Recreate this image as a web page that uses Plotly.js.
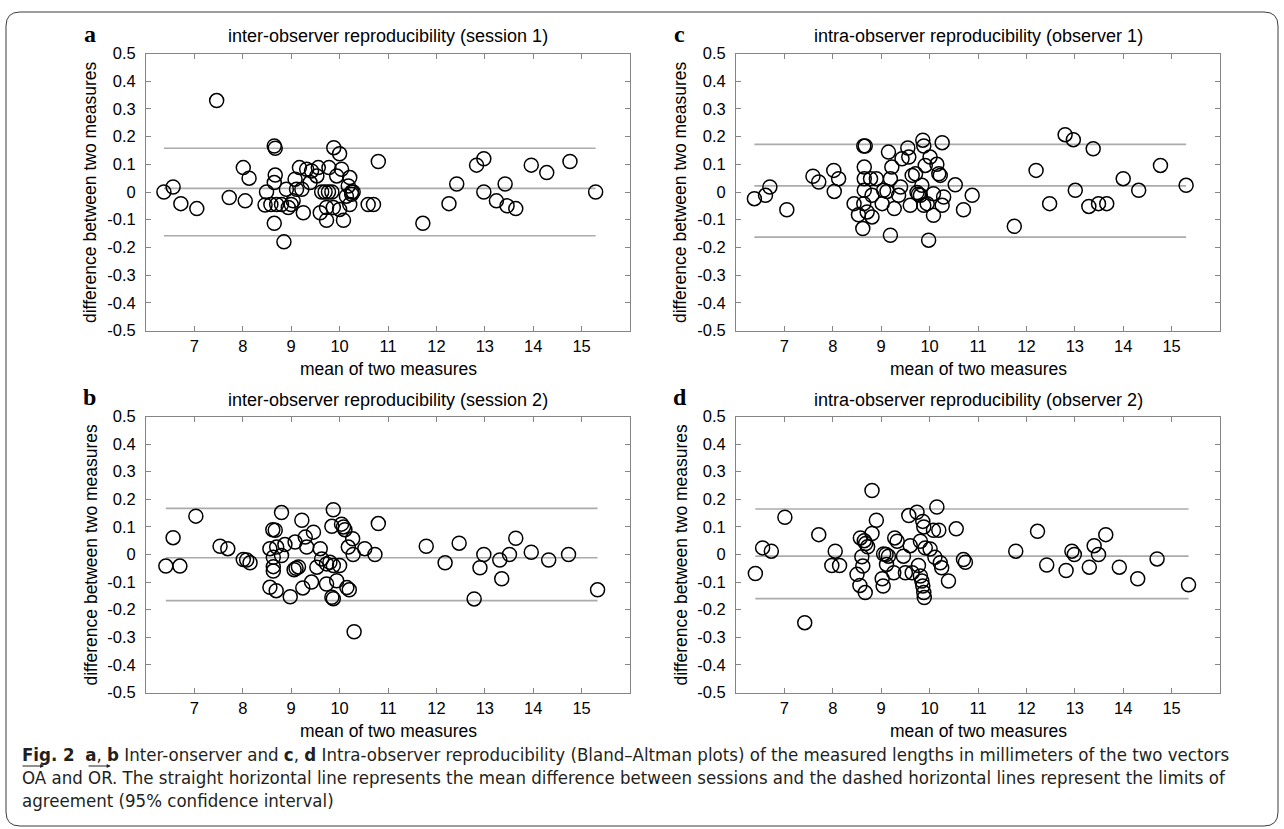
<!DOCTYPE html>
<html><head><meta charset="utf-8">
<script src="https://cdn.plot.ly/plotly-3.0.1.min.js"></script>
<style>html,body{margin:0;padding:0;background:#fff;}#chart{width:1284px;height:829px;}</style>
</head><body><div id="chart"></div>
<script>
// ---------- data ----------
const xTickVals = [7, 8, 9, 10, 11, 12, 13, 14, 15];
const xTickText = ['7', '8', '9', '10', '11', '12', '13', '14', '15'];
const yTickVals = [-0.5, -0.4, -0.3, -0.2, -0.1, 0, 0.1, 0.2, 0.3, 0.4, 0.5];
const yTickText = ['-0.5', '-0.4', '-0.3', '-0.2', '-0.1', '0', '0.1', '0.2', '0.3', '0.4', '0.5'];

const xLabel = 'mean of two measures';
const yLabel = 'difference between two measures';

const titleA = 'inter-observer reproducibility (session 1)';
const titleB = 'inter-observer reproducibility (session 2)';
const titleC = 'intra-observer reproducibility (observer 1)';
const titleD = 'intra-observer reproducibility (observer 2)';

// panel a
const aMean = [6.37,6.56,6.72,7.05,7.46,7.72,8.01,8.05,8.13,8.46,8.49,8.58,8.65,8.67,8.67,8.65,8.65,8.70,8.80,8.85,8.90,8.94,9.00,9.04,9.08,9.11,9.17,9.22,9.25,9.32,9.39,9.42,9.53,9.56,9.60,9.63,9.70,9.73,9.73,9.77,9.78,9.84,9.87,9.88,9.94,10.00,10.00,10.04,10.08,10.14,10.18,10.21,10.21,10.25,10.28,10.25,10.59,10.70,10.80,11.72,12.26,12.42,12.83,12.98,12.98,13.24,13.42,13.46,13.64,13.96,14.28,14.76,15.29];
const aDiff = [0.00,0.018,-0.042,-0.06,0.33,-0.02,0.088,-0.032,0.05,-0.047,0.00,-0.045,0.166,0.158,0.061,0.034,-0.113,-0.045,-0.045,-0.18,0.01,-0.056,-0.045,-0.032,0.046,0.01,0.088,0.01,-0.075,0.082,0.034,0.076,0.058,0.088,-0.075,0.00,0.00,-0.102,-0.056,0.00,0.088,0.00,-0.056,0.16,0.058,0.138,-0.063,0.082,-0.102,-0.015,0.022,0.052,-0.045,0.00,0.00,-0.008,-0.045,-0.045,0.11,-0.113,-0.042,0.029,0.097,0.12,0.00,-0.032,0.029,-0.05,-0.06,0.097,0.07,0.11,0.00];
const aLines = [0.158, 0.013, -0.158];

// panel b
const bMean = [6.41,6.56,6.70,7.03,7.53,7.69,8.01,8.08,8.15,8.56,8.69,8.80,8.62,8.67,8.56,8.70,8.63,8.63,8.63,8.80,8.87,8.98,9.08,9.06,9.10,9.15,9.22,9.29,9.32,9.24,9.42,9.46,9.60,9.63,9.53,9.73,9.80,9.87,9.73,9.84,9.87,9.87,9.84,10.00,9.94,10.04,10.08,10.11,10.27,10.18,10.28,10.15,10.20,10.30,10.52,10.73,10.80,11.79,12.18,12.47,12.78,12.90,12.98,13.31,13.35,13.51,13.64,13.96,14.32,14.73,15.33];
const bDiff = [-0.042,0.061,-0.042,0.139,0.03,0.021,-0.018,-0.02,-0.03,-0.119,-0.131,0.152,0.09,0.088,0.021,0.027,-0.01,-0.044,-0.06,-0.004,0.036,-0.153,0.045,-0.055,-0.05,-0.045,0.124,0.063,0.027,-0.121,-0.1,0.081,0.021,-0.016,-0.046,-0.034,-0.028,-0.04,-0.107,-0.155,-0.16,0.162,0.102,-0.04,-0.095,0.11,0.1,0.09,0.057,0.027,0.00,-0.12,-0.128,-0.28,0.021,0.00,0.112,0.03,-0.03,0.041,-0.161,-0.048,0.00,-0.02,-0.088,0.00,0.059,0.008,-0.02,0.00,-0.128];
const bLines = [0.167, -0.012, -0.167];

// panel c
const cMean = [6.38,6.61,6.70,7.05,7.59,7.71,8.02,8.12,8.03,8.44,8.53,8.62,8.64,8.67,8.65,8.65,8.65,8.64,8.71,8.81,8.78,8.90,8.81,9.02,9.05,9.12,9.19,9.15,9.22,9.19,9.27,9.40,9.36,9.43,9.55,9.57,9.60,9.64,9.71,9.74,9.77,9.81,9.86,9.88,9.91,9.88,9.84,9.98,10.26,10.01,10.15,10.19,10.22,10.08,10.29,9.95,10.26,10.08,10.53,10.88,10.70,11.75,12.20,12.48,12.80,12.97,13.01,13.29,13.38,13.49,13.66,14.00,14.32,14.77,15.30];
const cDiff = [-0.024,-0.012,0.018,-0.064,0.057,0.036,0.078,0.048,0.002,-0.042,-0.082,-0.132,0.166,0.166,0.09,0.048,0.006,-0.042,-0.072,-0.09,0.048,0.048,-0.012,-0.042,0.006,0.002,-0.156,0.144,0.09,0.048,-0.06,0.018,-0.012,0.12,0.159,0.126,-0.048,0.06,0.066,-0.002,-0.008,-0.012,0.187,0.166,0.096,-0.048,0.024,-0.174,0.178,0.126,0.10,0.066,0.06,-0.006,-0.018,-0.042,-0.048,-0.084,0.026,-0.012,-0.064,-0.124,0.078,-0.042,0.207,0.189,0.006,-0.052,0.156,-0.042,-0.042,0.048,0.006,0.096,0.024];
const cLines = [0.172, 0.022, -0.163];

// panel d
const dMean = [6.40,6.55,6.73,7.01,7.42,7.71,8.05,7.98,8.14,8.50,8.56,8.67,8.57,8.65,8.68,8.72,8.60,8.62,8.81,8.81,8.90,9.02,9.04,9.05,9.10,9.15,9.11,9.26,9.28,9.33,9.46,9.57,9.60,9.50,9.64,9.74,9.81,9.77,9.81,9.84,9.86,9.86,9.88,9.88,9.89,9.91,10.15,10.08,10.19,10.55,10.01,10.11,10.22,10.25,10.70,10.74,10.39,11.78,12.23,12.42,12.82,12.94,12.99,13.30,13.40,13.49,13.64,13.92,14.30,14.70,15.35];
const dDiff = [-0.069,0.024,0.012,0.135,-0.247,0.072,0.012,-0.04,-0.04,-0.072,-0.112,-0.138,0.06,0.05,0.04,0.028,-0.008,-0.042,0.232,0.076,0.124,-0.088,-0.114,0.002,0.00,-0.006,-0.036,-0.066,0.06,0.048,-0.006,0.141,0.032,-0.066,-0.066,0.153,0.048,-0.04,-0.078,-0.096,-0.114,0.12,0.10,-0.138,-0.156,0.024,0.172,0.088,0.088,0.093,0.02,-0.01,-0.03,-0.048,-0.018,-0.028,-0.096,0.012,0.084,-0.038,-0.058,0.012,0.00,-0.046,0.032,0.00,0.072,-0.046,-0.088,-0.016,-0.11];
const dLines = [0.165, -0.006, -0.16];

const captionLine1 = '<b>Fig. 2</b>\u00a0\u00a0<b>a</b>, <b>b</b> Inter-onserver and <b>c</b>, <b>d</b> Intra-observer reproducibility (Bland\u2013Altman plots) of the measured lengths in millimeters of the two vectors';
const captionLine2 = 'OA and OR. The straight horizontal line represents the mean difference between sessions and the dashed horizontal lines represent the limits of';
const captionLine3 = 'agreement (95% confidence interval)';

// ---------- layout helpers ----------
const W = 1284, H = 829;
const fx = p => p / W;
const fy = p => 1 - p / H;
const AX = {l: 146, r: 630}, CX = {l: 736, r: 1220};
const TOP = {t: 53.5, b: 330.5}, BOT = {t: 416.5, b: 692.5};

const panels = [
  {id: '', mean: aMean, diff: aDiff, lines: aLines, title: titleA, letter: 'a', X: AX, Y: TOP},
  {id: '2', mean: cMean, diff: cDiff, lines: cLines, title: titleC, letter: 'c', X: CX, Y: TOP},
  {id: '3', mean: bMean, diff: bDiff, lines: bLines, title: titleB, letter: 'b', X: AX, Y: BOT},
  {id: '4', mean: dMean, diff: dDiff, lines: dLines, title: titleD, letter: 'd', X: CX, Y: BOT}
];

const sans = 'Liberation Sans, Arial, sans-serif';
const tickFont = {family: sans, size: 16.5, color: '#000'};
const labelFont = {family: sans, size: 17.5, color: '#000'};
const titleFont = {family: sans, size: 18, color: '#000'};
const axisGray = '#858585';

const traces = [];
const layout = {
  width: W, height: H, margin: {l: 0, r: 0, t: 0, b: 0},
  paper_bgcolor: '#fff', plot_bgcolor: '#fff', showlegend: false,
  annotations: [], shapes: []
};

panels.forEach(p => {
  const xa = 'x' + p.id, ya = 'y' + p.id;
  const xmin = Math.min(...p.mean), xmax = Math.max(...p.mean);
  p.lines.forEach(v => {
    traces.push({x: [xmin, xmax], y: [v, v], xaxis: xa, yaxis: ya, mode: 'lines',
      line: {color: '#ababab', width: 1.6}, hoverinfo: 'skip'});
  });
  traces.push({x: p.mean, y: p.diff, xaxis: xa, yaxis: ya, mode: 'markers',
    marker: {symbol: 'circle-open', size: 14, color: '#000', line: {width: 1.5, color: '#000'}}});

  layout['xaxis' + p.id] = {
    domain: [fx(p.X.l), fx(p.X.r)], anchor: ya, range: [6, 16],
    tickmode: 'array', tickvals: xTickVals, ticktext: xTickText,
    showline: true, linecolor: axisGray, linewidth: 1, mirror: 'ticks',
    ticks: 'inside', ticklen: 5, tickcolor: axisGray, tickwidth: 1,
    showgrid: false, zeroline: false, tickfont: tickFont, ticklabelstandoff: 1
  };
  layout['yaxis' + p.id] = {
    domain: [fy(p.Y.b), fy(p.Y.t)], anchor: xa, range: [-0.5, 0.5],
    tickmode: 'array', tickvals: yTickVals, ticktext: yTickText,
    showline: true, linecolor: axisGray, linewidth: 1, mirror: 'ticks',
    ticks: 'inside', ticklen: 5, tickcolor: axisGray, tickwidth: 1,
    showgrid: false, zeroline: false, tickfont: tickFont, ticklabelstandoff: 6
  };
  const cx = (p.X.l + p.X.r) / 2, cy = (p.Y.t + p.Y.b) / 2;
  layout.annotations.push(
    {text: p.title, x: fx(cx), y: fy(p.Y.t - 17), xref: 'paper', yref: 'paper',
      xanchor: 'center', yanchor: 'middle', showarrow: false, font: titleFont},
    {text: xLabel, x: fx(cx), y: fy(p.Y.b + 38), xref: 'paper', yref: 'paper',
      xanchor: 'center', yanchor: 'middle', showarrow: false, font: labelFont},
    {text: yLabel, x: fx(p.X.l - 56), y: fy(cy), xref: 'paper', yref: 'paper',
      xanchor: 'center', yanchor: 'middle', textangle: -90, showarrow: false, font: labelFont},
    {text: '<b>' + p.letter + '</b>', x: fx(p.X.l - 56), y: fy(p.Y.t - 19), xref: 'paper', yref: 'paper',
      xanchor: 'center', yanchor: 'middle', showarrow: false,
      font: {family: 'Liberation Serif, Times New Roman, serif', size: 24, color: '#000'}}
  );
});

const capFamily = 'DejaVu Sans Condensed, Liberation Sans, sans-serif';
const capSize = 18.5;
const capFont = {family: capFamily, size: capSize, color: '#231f20'};
const capX = 20;
[[captionLine1, 754], [captionLine2, 777], [captionLine3, 800]].forEach(([t, y]) => {
  layout.annotations.push({text: t, x: fx(capX), y: fy(y), xref: 'paper', yref: 'paper',
    xanchor: 'left', yanchor: 'middle', showarrow: false, font: capFont});
});
// vector arrows above OA and OR, placed from measured text widths
const ctx = document.createElement('canvas').getContext('2d');
ctx.font = capSize + 'px "DejaVu Sans Condensed", "Liberation Sans", sans-serif';
const wOA = ctx.measureText('OA').width;
const wPre = ctx.measureText('OA and ').width;
const wOR = ctx.measureText('OR').width;
[[capX + 1, capX + wOA], [capX + wPre + 1, capX + wPre + wOR]].forEach(([x0, x1]) => {
  layout.annotations.push({text: '', x: fx(x1), y: fy(766), ax: fx(x0), ay: fy(766),
    axref: 'paper', ayref: 'paper', xref: 'paper', yref: 'paper', showarrow: true,
    arrowhead: 2, arrowsize: 0.8, arrowwidth: 1, arrowcolor: '#231f20'});
});

// rounded frame
const L = fx(6), R = fx(1278), T = fy(12), B = fy(826), rx = 14 / W, ry = 14 / H;
layout.shapes.push({type: 'path', xref: 'paper', yref: 'paper', line: {color: '#3c3c3c', width: 1},
  path: `M ${L + rx} ${T} L ${R - rx} ${T} Q ${R} ${T} ${R} ${T - ry} L ${R} ${B + ry} Q ${R} ${B} ${R - rx} ${B} L ${L + rx} ${B} Q ${L} ${B} ${L} ${B + ry} L ${L} ${T - ry} Q ${L} ${T} ${L + rx} ${T} Z`});

Plotly.newPlot('chart', traces, layout, {displayModeBar: false, staticPlot: true});
</script></body></html>
